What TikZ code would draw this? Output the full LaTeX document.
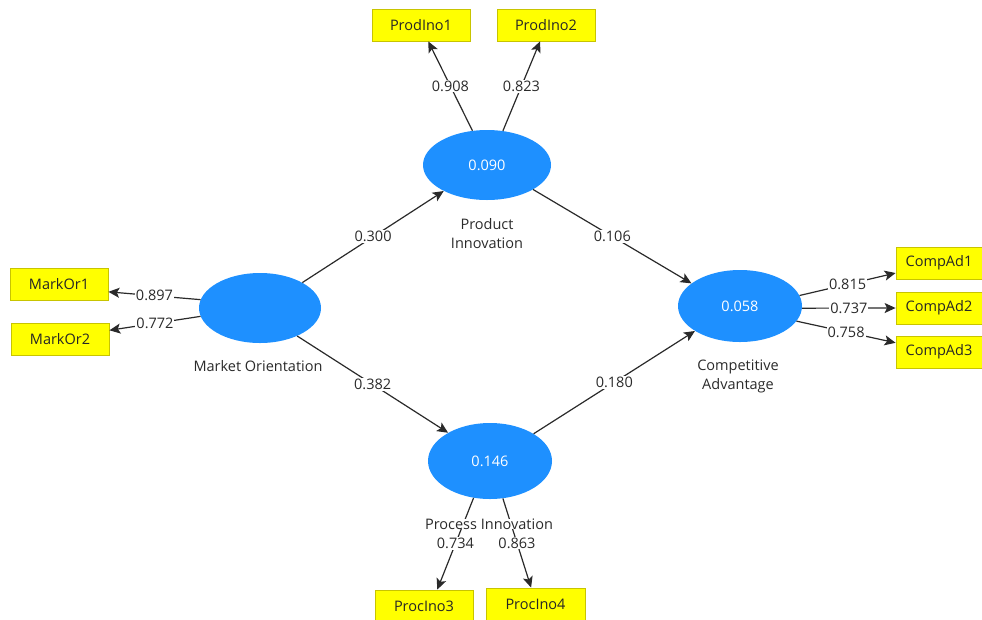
\documentclass[tikz,border=0pt]{standalone}
\usepackage{fontspec}
\setmainfont{Open Sans}
\usetikzlibrary{arrows.meta,shapes.geometric,calc}
\definecolor{lv}{HTML}{1E90FF}
\definecolor{indfill}{HTML}{FFFF00}
\definecolor{inddraw}{HTML}{C8C400}
\definecolor{ln}{HTML}{2A2A2A}
\begin{document}
\begin{tikzpicture}[x=1pt,y=-1pt,
  font=\fontsize{14.5}{19}\selectfont,
  latent/.style={ellipse,fill=lv,draw=none,inner sep=0pt,text=white},
  ind/.style={rectangle,fill=indfill,draw=inddraw,line width=0.8pt,minimum height=32pt,inner sep=0pt,text=black!85},
  coef/.style={fill=white,inner sep=1pt,text=ln},
  lvcap/.style={align=center,text=ln,inner sep=1pt},
  arr/.style={draw=ln,line width=1.2pt,-{Stealth[length=11pt,width=10pt,inset=2.5pt]}}]
\useasboundingbox (0,0) rectangle (982,619);
% latent variables
\node[latent,minimum width=122pt,minimum height=70pt] (mo) at (260,308) {};
\node[latent,minimum width=128pt,minimum height=70pt] (pi) at (487,165) {0.090};
\node[latent,minimum width=124pt,minimum height=76pt] (pc) at (490,461) {0.146};
\node[latent,minimum width=124pt,minimum height=72pt] (ca) at (740,306) {0.058};
% indicators
\node[ind,minimum width=98pt] (p1) at (421,25) {ProdIno1};
\node[ind,minimum width=98pt] (p2) at (546,25) {ProdIno2};
\node[ind,minimum width=98pt] (m1) at (59,284) {MarkOr1};
\node[ind,minimum width=98pt] (m2) at (60,339) {MarkOr2};
\node[ind,minimum width=86pt] (c1) at (939,263) {CompAd1};
\node[ind,minimum width=86pt] (c2) at (939,308) {CompAd2};
\node[ind,minimum width=86pt] (c3) at (939,352) {CompAd3};
\node[ind,minimum width=98pt] (q3) at (424,606) {ProcIno3};
\node[ind,minimum width=99pt] (q4) at (535.5,604) {ProcIno4};
% structural paths
\draw[arr] (mo.31) -- node[coef]{0.300} (pi.211);
\draw[arr] (pi.-28) -- node[coef]{0.106} (ca.155);
\draw[arr] (mo.-37) -- node[coef]{0.382} (pc.146);
\draw[arr] (pc.32) -- node[coef]{0.180} (ca.209);
% outer loadings
\draw[arr] (pi.113) -- node[coef]{0.908} (p1.-66);
\draw[arr] (pi.65) -- node[coef]{0.823} (p2.-110);
\draw[arr] (mo.172) -- node[coef]{0.897} (m1.-9);
\draw[arr] (mo.188) -- node[coef]{0.772} (m2.10);
\draw[arr] (ca.10) -- node[coef]{0.815} (c1.193);
\draw[arr] (ca.-2) -- node[coef]{0.737} (c2.west);
\draw[arr] (ca.-15) -- node[coef]{0.758} (c3.168);
\draw[arr] (pc.246) -- node[coef]{0.734} (q3.51);
\draw[arr] (pc.-71) -- node[coef]{0.863} (q4.105);
% captions
\node[lvcap] (capmo) at (258,366) {Market Orientation};
\node[lvcap] (cappi) at (487,233.5) {Product\\Innovation};
\node[lvcap] (capca) at (738,376.5) {Competitive\\Advantage};
\node[lvcap,fill=white,inner sep=0pt] (cappc) at (489,524) {Process Innovation};
\end{tikzpicture}
\end{document}
